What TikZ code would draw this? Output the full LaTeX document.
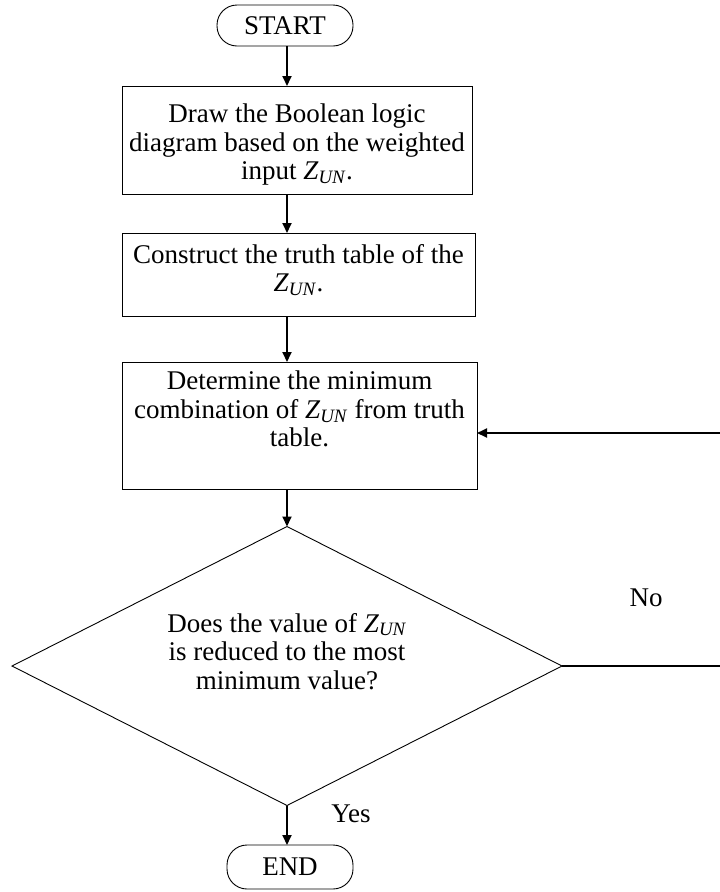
\documentclass[tikz,border=0pt]{standalone}
\usepackage{fontspec}
\setmainfont{Liberation Serif}
\usetikzlibrary{arrows.meta,shapes.geometric,calc}
\newcommand{\zun}{\textit{Z}\textsubscript{\textit{UN}}}
\tikzset{
  boxline/.style={draw=black, line width=0.9pt},
  procbox/.style={boxline, rectangle, inner sep=0pt, outer sep=0pt},
  termbox/.style={boxline, rectangle, rounded corners=20pt, inner sep=0pt, outer sep=0pt},
  decbox/.style={boxline, diamond, aspect=1.97, inner sep=0pt, outer sep=0pt, minimum width=550pt, minimum height=279pt},
  conn/.style={draw=black, line width=1.8pt, -{Triangle[length=10pt,width=9pt]}},
  plainconn/.style={draw=black, line width=1.2pt},
  lbl/.style={inner sep=0pt, anchor=base}
}
\newcommand{\boxtext}[4]{\parbox[c][#2pt][t]{#1pt}{\centering\vspace*{#3pt}#4}}
\begin{document}
\begin{tikzpicture}[x=1pt,y=-1pt,font=\fontsize{27}{28.5}\selectfont]
\useasboundingbox (0,0) rectangle (720,892);
\coordinate (col) at (287,0);
\node[termbox, minimum width=136pt, minimum height=41pt] (start) at (285,25.5) {START};
\node[procbox] (b1) at (297,140) {\boxtext{350}{108}{18}{Draw the Boolean logic\\diagram based on the weighted\\input \zun.}};
\node[procbox] (b2) at (298.5,274.5) {\boxtext{353}{83}{11}{Construct the truth table of the\\\zun.}};
\node[procbox] (b3) at (299.5,425.5) {\boxtext{355}{127}{9}{Determine the minimum\\combination of \zun{} from truth\\table.}};
\node[decbox] (dec) at (287,666) {\parbox[c][130pt][t]{280pt}{\centering\vspace*{12pt}Does the value of \zun\\is reduced to the most\\minimum value?}};
\node[termbox, minimum width=126pt, minimum height=44pt] (end) at (290,867) {END};
\coordinate (rb) at (722,666);
\coordinate (rt) at (722,433);
\draw[conn] (start.south -| col) -- (b1.north -| col);
\draw[conn] (b1.south -| col) -- (b2.north -| col);
\draw[conn] (b2.south -| col) -- (b3.north -| col);
\draw[conn] (b3.south -| col) -- (dec.north);
\draw[conn] (dec.south) -- (end.north -| col);
\draw[plainconn] (dec.east) -- (rb) -- (rt);
\draw[conn] (rt) -- (rt -| b3.east);
\node[lbl] (no) at (646,606) {No};
\node[lbl] (yes) at (351,822) {Yes};
\end{tikzpicture}
\end{document}
